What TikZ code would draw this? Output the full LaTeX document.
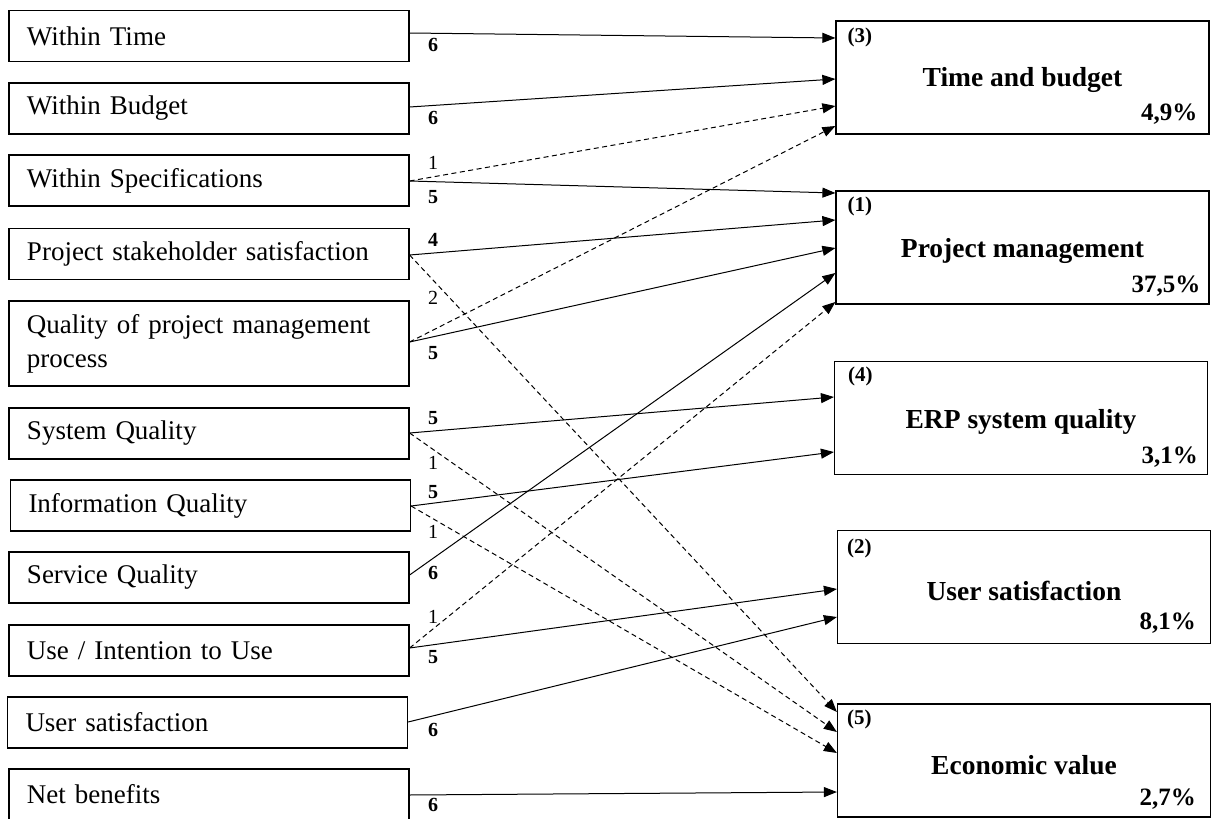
\documentclass[tikz,border=0pt]{standalone}
\usepackage{fontspec}
\setmainfont{Liberation Serif}
\usetikzlibrary{arrows.meta,calc}

\tikzset{
  srcbox/.style={draw, line width=1.2pt, minimum width=400pt, minimum height=51pt,
    inner sep=0pt, text width=364pt, align=left,
    font=\fontsize{27}{34}\selectfont},
  tgtbox/.style={draw, line width=1.2pt, minimum width=373pt, minimum height=113pt, inner sep=0pt},
  tgttitle/.style={inner sep=0pt, font=\fontsize{27.5}{33}\selectfont\bfseries},
  tgtrank/.style={inner sep=0pt, anchor=west, font=\fontsize{21}{25}\selectfont\bfseries},
  tgtpct/.style={inner sep=0pt, anchor=east, font=\fontsize{25}{30}\selectfont\bfseries},
  arr/.style={line width=1pt, -{Triangle[length=13pt,width=10pt]}},
  darr/.style={arr, dash pattern=on 5pt off 3.5pt},
  wb/.style={inner sep=0pt, font=\fontsize{20}{24}\selectfont\bfseries},
  wr/.style={inner sep=0pt, font=\fontsize{20}{24}\selectfont},
}

\begin{document}
\begin{tikzpicture}[x=1pt,y=-1pt]
\useasboundingbox (0,0) rectangle (1211,819);

% Success criteria (left column)
\node[srcbox] (wt)   at (209,36)    {Within Time};
\node[srcbox] (wbud) at (209,108.5) {Within Budget};
\node[srcbox] (wsp)  at (209,180.5) {Within Specifications};
\node[srcbox] (pss)  at (209,254)   {Project stakeholder satisfaction};
\node[srcbox, minimum height=85pt] (qpm) at (209,343.5) {Quality of project management\\process};
\node[srcbox] (sq)   at (209,433.5) {System Quality};
\node[srcbox] (iq)   at (210.5,505.5) {Information Quality};
\node[srcbox] (svq)  at (209,577.5) {Service Quality};
\node[srcbox] (use)  at (209,650.5) {Use / Intention to Use};
\node[srcbox] (usat) at (207.5,722.5) {User satisfaction};
\node[srcbox] (nb)   at (209,794.5) {Net benefits};

% Dimensions (right column)
\node[tgtbox] (tb)  at (1022.5,77.5)  {};
\node[tgtbox] (pm)  at (1022.5,247.5) {};
\node[tgtbox] (erp) at (1021,418)     {};
\node[tgtbox] (us)  at (1024,587)     {};
\node[tgtbox] (ev)  at (1024,760.5)   {};

\node[tgtrank] (tbr)  at ($(tb.north west)+(12,17)$)  {(3)};
\node[tgttitle] (tbt) at ($(tb.north)+(0,60)$)        {Time and budget};
\node[tgtpct] (tbp)   at ($(tb.north east)+(-12,94)$) {4,9\%};

\node[tgtrank] (pmr)  at ($(pm.north west)+(12,16)$)  {(1)};
\node[tgttitle] (pmt) at ($(pm.north)+(0,61)$)        {Project management};
\node[tgtpct] (pmp)   at ($(pm.north east)+(-9,96)$)  {37,5\%};

\node[tgtrank] (erpr)  at ($(erp.north west)+(14,16)$) {(4)};
\node[tgttitle] (erpt) at ($(erp.north)+(0,61)$)       {ERP system quality};
\node[tgtpct] (erpp)   at ($(erp.north east)+(-10,96)$) {3,1\%};

\node[tgtrank] (usr)  at ($(us.north west)+(10,19)$)  {(2)};
\node[tgttitle] (ust) at ($(us.north)+(0,61)$)        {User satisfaction};
\node[tgtpct] (usp)   at ($(us.north east)+(-15,93)$) {8,1\%};

\node[tgtrank] (evr)  at ($(ev.north west)+(10,16)$)  {(5)};
\node[tgttitle] (evt) at ($(ev.north)+(0,62)$)        {Economic value};
\node[tgtpct] (evp)   at ($(ev.north east)+(-15,96)$) {2,7\%};

% Connectors
\draw[arr]  ($(wt.east)+(0,-3)$)     -- ($(tb.west)+(0,-39.5)$);
\draw[arr]  ($(wbud.east)+(0,-1.5)$) -- ($(tb.west)+(0,1.5)$);
\draw[darr] ($(wsp.east)+(0,0.5)$)   -- ($(tb.west)+(0,28.5)$);
\draw[arr]  ($(wsp.east)+(0,0.5)$)   -- ($(pm.west)+(0,-54.5)$);
\draw[arr]  ($(pss.east)+(0,1)$)     -- ($(pm.west)+(0,-27.5)$);
\draw[darr] ($(pss.east)+(0,1)$)     -- ($(ev.west)+(0,-48.5)$);
\draw[darr] ($(qpm.east)+(0,-1.5)$)  -- ($(tb.west)+(0,48.5)$);
\draw[arr]  ($(qpm.east)+(0,-1.5)$)  -- ($(pm.west)+(0,0.5)$);
\draw[arr]  ($(sq.east)+(0,-0.5)$)   -- ($(erp.west)+(0,-21)$);
\draw[darr] ($(sq.east)+(0,-0.5)$)   -- ($(ev.west)+(0,-28.5)$);
\draw[arr]  ($(iq.east)+(0,0.5)$)    -- ($(erp.west)+(0,34)$);
\draw[darr] ($(iq.east)+(0,0.5)$)    -- ($(ev.west)+(0,-7.5)$);
\draw[arr]  ($(svq.east)+(0,-2.5)$)  -- ($(pm.west)+(0,25.5)$);
\draw[darr] ($(use.east)+(0,-2.5)$)  -- ($(pm.west)+(0,54.5)$);
\draw[arr]  ($(use.east)+(0,-2.5)$)  -- ($(us.west)+(0,2)$);
\draw[arr]  ($(usat.east)+(0,-0.5)$) -- ($(us.west)+(0,30)$);
\draw[arr]  ($(nb.east)+(0,0.5)$)    -- ($(ev.west)+(0,31.5)$);

% Weights
\node[wb] (l1)  at (433,45)  {6};
\node[wb] (l2)  at (433,118) {6};
\node[wr] (l3)  at (433,163) {1};
\node[wb] (l4)  at (433,197) {5};
\node[wb] (l5)  at (433,240) {4};
\node[wr] (l6)  at (433,298) {2};
\node[wb] (l7)  at (433,353) {5};
\node[wb] (l8)  at (433,418) {5};
\node[wr] (l9)  at (433,463) {1};
\node[wb] (l10) at (433,492) {5};
\node[wr] (l11) at (433,532) {1};
\node[wb] (l12) at (433,573) {6};
\node[wr] (l13) at (433,617) {1};
\node[wb] (l14) at (433,657) {5};
\node[wb] (l15) at (433,730) {6};
\node[wb] (l16) at (433,805) {6};
\end{tikzpicture}
\end{document}
